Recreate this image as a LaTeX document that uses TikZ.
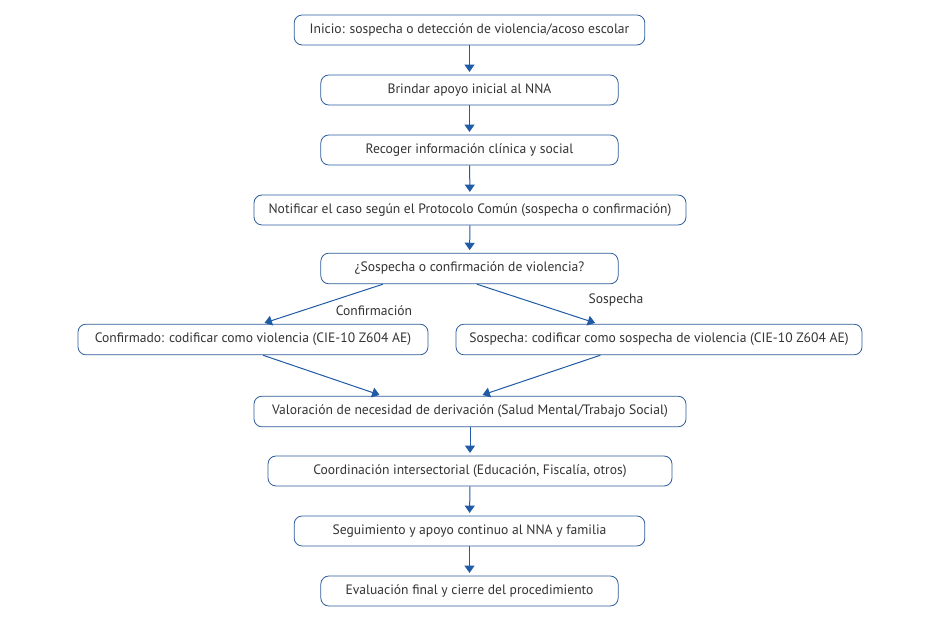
\documentclass[tikz,border=0pt]{standalone}
\usepackage{fontspec}
\setmainfont{PT Sans}
\usetikzlibrary{arrows.meta,calc,positioning}
\definecolor{boxline}{HTML}{2D5C9C}
\definecolor{flow}{HTML}{1F5BA6}
\definecolor{ink}{HTML}{333333}

\tikzset{
 stepbox/.style={draw=boxline,line width=.6pt,rounded corners=6pt,fill=white,
  minimum height=22.5pt,inner sep=2pt,text=ink,font=\fontsize{10.2}{12}\selectfont},
 flowarrow/.style={flow,line width=.75pt,-{Triangle[width=7.5pt,length=5.5pt]},shorten >=2pt}
}

\begin{document}
\begin{tikzpicture}[x=.75pt,y=.75pt]
 \useasboundingbox[fill=white](0,0)rectangle(942,620);
 \node[stepbox,minimum width=263pt](inicio)at(469.5,590){Inicio: sospecha o detección de violencia/acoso escolar};
 \node[stepbox,minimum width=223pt](apoyo)at(469.5,530){Brindar apoyo inicial al NNA};
 \node[stepbox,minimum width=223pt](recoger)at(469.5,470){Recoger información clínica y social};
 \node[stepbox,minimum width=324pt](notificar)at(470,410){Notificar el caso según el Protocolo Común (sospecha o confirmación)};
 \node[stepbox,minimum width=223pt,minimum height=23pt](decision)at(469.5,351.5){¿Sospecha o confirmación de violencia?};
 \node[stepbox,minimum width=262.5pt,minimum height=23pt](confirmado)at(253,280.5){Confirmado: codificar como violencia (CIE-10 Z604 AE)};
 \node[stepbox,minimum width=304.5pt,minimum height=23pt](sospecha)at(659,280.5){Sospecha: codificar como sospecha de violencia (CIE-10 Z604 AE)};
 \node[stepbox,minimum width=324pt,minimum height=23pt](valoracion)at(470,208.5){Valoración de necesidad de derivación (Salud Mental/Trabajo Social)};
 \node[stepbox,minimum width=303pt](coordinacion)at(470,149){Coordinación intersectorial (Educación, Fiscalía, otros)};
 \node[stepbox,minimum width=263pt](seguimiento)at(469.5,89){Seguimiento y apoyo continuo al NNA y familia};
 \node[stepbox,minimum width=223pt](cierre)at(469.5,29){Evaluación final y cierre del procedimiento};
 % vertical chain
 \draw[flowarrow](inicio)--(apoyo);
 \draw[flowarrow](apoyo)--(recoger);
 \draw[flowarrow](recoger)--(notificar);
 \draw[flowarrow](notificar)--(decision);
 \draw[flowarrow](valoracion)--(coordinacion);
 \draw[flowarrow](coordinacion)--(seguimiento);
 \draw[flowarrow](seguimiento)--(cierre);
 % branches
 \draw[flowarrow]([xshift=-65pt]decision.south)--([xshift=6.75pt]confirmado.north);
 \draw[flowarrow]([xshift=5.6pt]decision.south)--([xshift=-46pt]sospecha.north);
 \draw[flowarrow]([xshift=7.5pt]confirmado.south)--([xshift=-66pt]valoracion.north);
 \draw[flowarrow]([xshift=-44pt]sospecha.south)--([xshift=7.5pt]valoracion.north);
 \node[text=ink,font=\fontsize{10.2}{12}\selectfont](lblconf)at(374,309){Confirmación};
 \node[text=ink,font=\fontsize{10.2}{12}\selectfont](lblsosp)at(616,320){Sospecha};
\end{tikzpicture}
\end{document}
